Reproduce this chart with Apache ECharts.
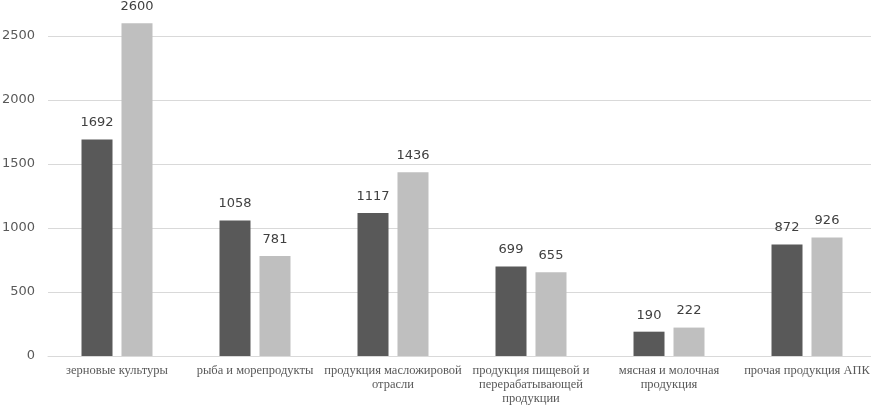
<!DOCTYPE html>
<html>
<head>
<meta charset="utf-8">
<script src="https://cdn.jsdelivr.net/npm/echarts@6/dist/echarts.min.js"></script>
<style>
html, body { margin: 0; padding: 0; background: #fff; }
#main { width: 871px; height: 406px; }
</style>
</head>
<body>
<div id="main"></div>
<script>
var categories = [
    'зерновые культуры',
    'рыба и морепродукты',
    'продукция масложировой\nотрасли',
    'продукция пищевой и\nперерабатывающей\nпродукции',
    'мясная и молочная\nпродукция',
    'прочая продукция АПК'
];
var seriesA = [1692, 1058, 1117, 699, 190, 872]; // тёмные столбцы
var seriesB = [2600, 781, 1436, 655, 222, 926];  // светлые столбцы
var yTicks = [0, 500, 1000, 1500, 2000, 2500, 3000];

var chart = echarts.init(document.getElementById('main'));

var labelStyle = {
    show: true,
    position: 'top',
    distance: 10,
    color: '#404040',
    fontSize: 13,
    fontFamily: 'DejaVu Sans'
};

var option = {
    animation: false,
    grid: { left: 48, right: -5, top: -28, bottom: 50, outerBoundsMode: 'none', containLabel: false },
    xAxis: {
        type: 'category',
        data: categories,
        axisLine: { lineStyle: { color: '#d9d9d9' } },
        axisTick: { show: false },
        axisLabel: {
            color: '#595959',
            fontFamily: 'Liberation Serif',
            fontSize: 12.5,
            lineHeight: 14,
            margin: 8,
            interval: 0
        }
    },
    yAxis: {
        type: 'value',
        min: yTicks[0],
        max: yTicks[yTicks.length - 1],
        interval: 500,
        axisLine: { show: false },
        axisTick: { show: false },
        splitLine: { lineStyle: { color: '#d9d9d9', width: 1 } },
        axisLabel: {
            color: '#595959',
            fontFamily: 'DejaVu Sans',
            fontSize: 13,
            margin: 13,
            formatter: function (v) { return String(v); }
        }
    },
    series: [{
        type: 'bar',
        data: seriesA,
        barWidth: 31,
        barGap: '29%',
        clip: false,
        itemStyle: { color: '#595959' },
        label: labelStyle
    }, {
        type: 'bar',
        data: seriesB,
        barWidth: 31,
        clip: false,
        itemStyle: { color: '#bfbfbf' },
        label: labelStyle
    }]
};
chart.setOption(option);
</script>
</body>
</html>
